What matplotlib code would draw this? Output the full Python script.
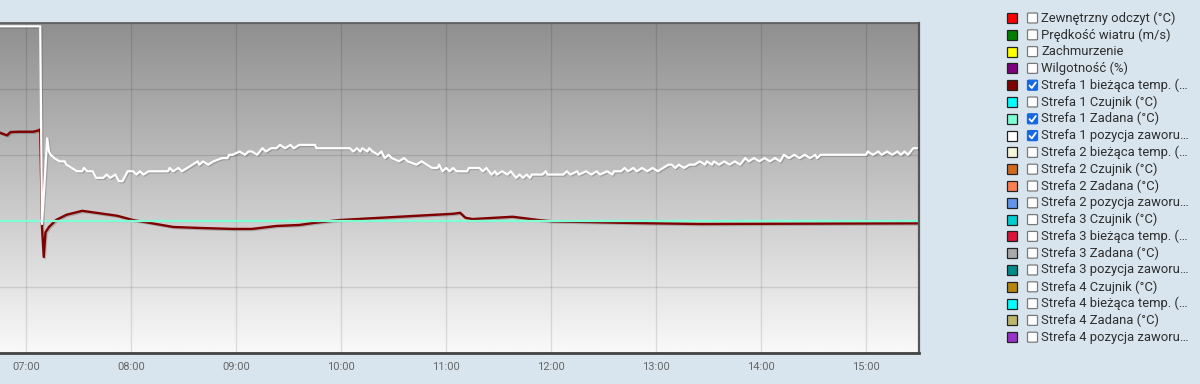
import numpy as np
import pandas as pd
import matplotlib
matplotlib.use("Agg")
import matplotlib.pyplot as plt
import matplotlib.dates as mdates
import matplotlib.patheffects as pe
from matplotlib.colors import LinearSegmentedColormap
from matplotlib.patches import Rectangle, FancyBboxPatch
from matplotlib.lines import Line2D

plt.rcParams['font.family'] = ['Roboto', 'DejaVu Sans']

DAY = "2024-01-15 "

# Strefa 1 pozycja zaworu (%)
valve_times = ["06:45", "07:08", "07:09", "07:12", "07:13", "07:14", "07:16", "07:19", "07:22", "07:23",
               "07:26", "07:29", "07:32", "07:33", "07:35", "07:38", "07:40", "07:42", "07:44", "07:46",
               "07:48", "07:51", "07:53", "07:55", "07:58", "08:01", "08:03", "08:05", "08:07", "08:10",
               "08:21", "08:22", "08:24", "08:27", "08:29", "08:32", "08:35", "08:38", "08:39", "08:41",
               "08:44", "08:47", "08:52", "08:55", "08:56", "08:58", "09:02", "09:05", "09:07", "09:09",
               "09:12", "09:15", "09:17", "09:20", "09:23", "09:25", "09:28", "09:31", "09:33", "09:36",
               "09:40", "09:45", "09:46", "10:05", "10:07", "10:09", "10:11", "10:12", "10:15", "10:16",
               "10:18", "10:21", "10:23", "10:25", "10:27", "10:29", "10:33", "10:36", "10:38", "10:43",
               "10:46", "10:49", "10:52", "10:55", "10:56", "10:58", "11:00", "11:02", "11:04", "11:06",
               "11:12", "11:13", "11:19", "11:21", "11:23", "11:26", "11:28", "11:29", "11:32", "11:35",
               "11:37", "11:40", "11:42", "11:44", "11:46", "11:48", "11:49", "11:55", "11:57", "11:58",
               "12:07", "12:09", "12:11", "12:15", "12:16", "12:20", "12:23", "12:26", "12:28", "12:32",
               "12:35", "12:36", "12:40", "12:42", "12:44", "12:47", "12:49", "12:52", "12:55", "12:58",
               "13:01", "13:04", "13:07", "13:09", "13:11", "13:13", "13:16", "13:19", "13:22", "13:25",
               "13:28", "13:29", "13:32", "13:33", "13:36", "13:39", "13:42", "13:45", "13:48", "13:51",
               "13:53", "13:56", "13:59", "14:02", "14:05", "14:08", "14:11", "14:13", "14:16", "14:19",
               "14:22", "14:25", "14:28", "14:31", "14:32", "14:34", "15:00", "15:01", "15:04", "15:07",
               "15:09", "15:12", "15:15", "15:18", "15:20", "15:22", "15:24", "15:27", "15:29"]
valve_pos = [99, 99, 39, 65, 61, 60, 59, 58, 58, 57,
             56, 55, 55, 56, 55, 55, 53, 53, 53, 54,
             53, 54, 52, 52, 55, 55, 54, 55, 54, 55,
             55, 56, 55, 56, 55, 56, 57, 58, 57, 58,
             57, 58, 59, 59, 60, 60, 61, 60, 61, 61,
             60, 62, 61, 62, 62, 63, 62, 63, 62, 63,
             63, 63, 62, 62, 61, 62, 61, 62, 61, 62,
             61, 60, 61, 59, 60, 59, 58, 59, 58, 57,
             58, 57, 56, 56, 57, 55, 56, 55, 56, 55,
             55, 56, 56, 55, 56, 54, 55, 54, 55, 54,
             55, 53, 54, 53, 54, 53, 54, 54, 55, 54,
             54, 55, 54, 55, 54, 55, 54, 55, 54, 55,
             54, 55, 55, 56, 55, 56, 55, 56, 55, 56,
             55, 56, 57, 57, 56, 57, 56, 57, 57, 58,
             57, 58, 57, 58, 57, 58, 57, 58, 57, 59,
             58, 59, 58, 59, 58, 59, 58, 60, 59, 60,
             59, 60, 59, 60, 59, 60, 60, 61, 60, 61,
             60, 61, 60, 61, 60, 61, 60, 62, 62]

# Strefa 1 bieżąca temp. (°C)
temp_times = ["06:45", "06:47", "06:49", "06:51", "06:56", "07:04", "07:07", "07:08", "07:09", "07:10",
              "07:11", "07:13", "07:17", "07:23", "07:32", "07:40", "07:52", "08:01", "08:11", "08:24",
              "08:39", "08:58", "09:09", "09:23", "09:36", "09:44", "09:59", "10:33", "11:04", "11:08",
              "11:11", "11:15", "11:38", "11:53", "12:01", "12:47", "13:25", "15:29"]
temp_vals = [23.67, 23.63, 23.59, 23.69, 23.70, 23.70, 23.74, 23.77, 20.80, 19.90,
             20.65, 20.81, 21.02, 21.18, 21.30, 21.24, 21.15, 21.02, 20.93, 20.81,
             20.78, 20.75, 20.75, 20.84, 20.87, 20.93, 21.02, 21.12, 21.21, 21.24,
             21.09, 21.05, 21.12, 21.02, 20.98, 20.93, 20.90, 20.92]

# Strefa 1 Zadana (°C)
setpoint_times = ["06:45", "15:30"]
setpoint_vals = [21.0, 21.0]

legend_labels = ["Zewnętrzny odczyt (°C)", "Prędkość wiatru (m/s)", "Zachmurzenie", "Wilgotność (%)",
                 "Strefa 1 bieżąca temp. (…", "Strefa 1 Czujnik (°C)", "Strefa 1 Zadana (°C)",
                 "Strefa 1 pozycja zaworu…", "Strefa 2 bieżąca temp. (…", "Strefa 2 Czujnik (°C)",
                 "Strefa 2 Zadana (°C)", "Strefa 2 pozycja zaworu…", "Strefa 3 Czujnik (°C)",
                 "Strefa 3 bieżąca temp. (…", "Strefa 3 Zadana (°C)", "Strefa 3 pozycja zaworu…",
                 "Strefa 4 Czujnik (°C)", "Strefa 4 bieżąca temp. (…", "Strefa 4 Zadana (°C)",
                 "Strefa 4 pozycja zaworu…"]
legend_colors = ["#ff0000", "#008000", "#ffff00", "#800080", "#800000", "#00ffff", "#7fffd4",
                 "#ffffff", "#f5f5dc", "#d2691e", "#ff7f50", "#6495ed", "#00ced1", "#dc143c",
                 "#a9a9a9", "#008b8b", "#b8860b", "#00ffff", "#bdb76b", "#9932cc"]
legend_checked = [False, False, False, False, True, False, True, True, False, False,
                  False, False, False, False, False, False, False, False, False, False]


def to_dt(times):
    return pd.to_datetime([DAY + t for t in times])


W, H = 1200, 384
fig = plt.figure(figsize=(W / 100, H / 100), dpi=100, facecolor="#d8e5ee")

rect = [0, (H - 352.5) / H, 918.5 / W, (352.5 - 23) / H]

# background gradient
bg = fig.add_axes(rect, zorder=0)
bg.axis("off")
cmap = LinearSegmentedColormap.from_list("bg", ["#f9f9f9", "#c4c4c4", "#8f8f8f"])
bg.imshow(np.linspace(0, 1, 256).reshape(-1, 1), cmap=cmap, origin="lower",
          aspect="auto", extent=[0, 1, 0, 1])
bg.set_xlim(0, 1)
bg.set_ylim(0, 1)

ax = fig.add_axes(rect, zorder=1)
ax.set_facecolor("none")
ax.set_xlim(pd.Timestamp(DAY + "06:45"), pd.Timestamp(DAY + "15:30"))
ax.set_ylim(17, 27)
ax.set_yticks(np.arange(17, 27.1, 2))
ax.xaxis.set_major_locator(mdates.HourLocator())
ax.xaxis.set_major_formatter(mdates.DateFormatter("%H:%M"))
ax.grid(True, color="black", alpha=0.11, lw=1)
ax.tick_params(axis="x", length=0, pad=7, labelsize=8, labelcolor="#666666")
ax.tick_params(axis="y", which="both", length=0, left=False, right=False,
               labelleft=False, labelright=False)
ax.spines["left"].set_visible(False)
ax.spines["top"].set_color("#5a5a5a")
ax.spines["top"].set_linewidth(1.2)
ax.spines["right"].set_color("#555555")
ax.spines["right"].set_linewidth(1.6)
ax.spines["bottom"].set_color("#444444")
ax.spines["bottom"].set_linewidth(2.0)

shadow = [pe.SimpleLineShadow(offset=(0.8, -0.8), shadow_color="black", alpha=0.18), pe.Normal()]

ax.plot(to_dt(temp_times), temp_vals, color="#800000", lw=1.7, path_effects=shadow,
        solid_joinstyle="round")
ax.plot(to_dt(setpoint_times), setpoint_vals, color="#7fffd4", lw=1.6)

ax2 = ax.twinx()
ax2.set_ylim(0, 100)
ax2.set_yticks([])
ax2.tick_params(axis="y", which="both", length=0, left=False, right=False)
for s in ax2.spines.values():
    s.set_visible(False)
ax2.plot(to_dt(valve_times), valve_pos, color="white", lw=1.6, path_effects=shadow,
         solid_joinstyle="round")


# legend on the right
def fx(px):
    return px / W


def fy(py):
    return 1 - py / H


for i, (lab, col, chk) in enumerate(zip(legend_labels, legend_colors, legend_checked)):
    yc = 18 + i * 16.8
    fig.add_artist(Rectangle((fx(1006.5), fy(yc + 5)), fx(10), 10 / H, transform=fig.transFigure,
                             facecolor=col, edgecolor="#222222", lw=0.9))
    fig.add_artist(FancyBboxPatch((fx(1027.5), fy(yc + 5)), fx(10), 10 / H,
                                  boxstyle="round,pad=0,rounding_size=0.0015",
                                  transform=fig.transFigure,
                                  facecolor="#1668dc" if chk else "white",
                                  edgecolor="#1668dc" if chk else "#7a7a7a", lw=0.9))
    if chk:
        fig.add_artist(Line2D([fx(1029.5), fx(1031.8), fx(1035.8)],
                              [fy(yc + 0.3), fy(yc + 2.8), fy(yc - 2.8)],
                              transform=fig.transFigure, color="white", lw=1.3,
                              solid_capstyle="round", solid_joinstyle="round"))
    fig.text(fx(1041), fy(yc), lab, fontsize=9.4, color="#2e2e2e", va="center", ha="left")

fig.savefig("out.png", dpi=100, facecolor=fig.get_facecolor())
